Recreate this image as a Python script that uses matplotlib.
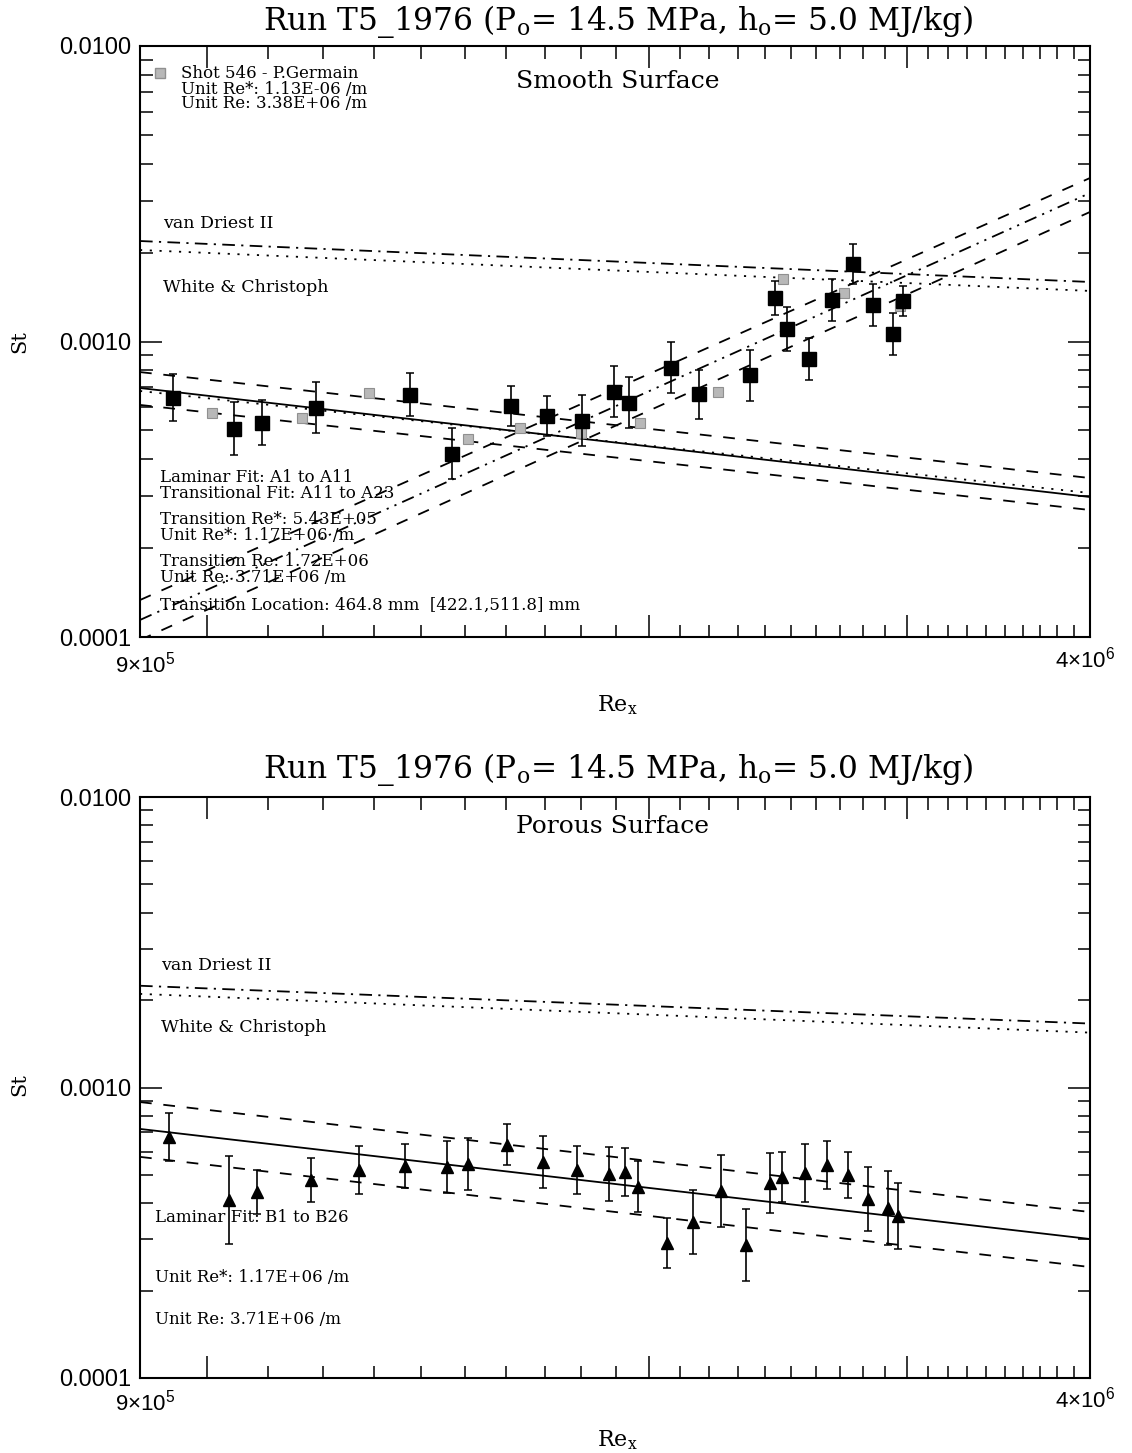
import numpy as np
import matplotlib
matplotlib.use("Agg")
import matplotlib.pyplot as plt
from matplotlib.ticker import FixedLocator, NullFormatter, FixedFormatter

# ---------------- data ----------------
smooth_re = [9.48e5, 1.043e6, 1.090e6, 1.186e6, 1.375e6, 1.468e6, 1.612e6, 1.706e6,
             1.801e6, 1.894e6, 1.941e6, 2.072e6, 2.165e6, 2.346e6, 2.438e6, 2.485e6,
             2.575e6, 2.667e6, 2.756e6, 2.844e6, 2.935e6, 2.982e6]
smooth_st = [6.45e-4, 5.06e-4, 5.31e-4, 5.97e-4, 6.61e-4, 4.17e-4, 6.05e-4, 5.61e-4,
             5.40e-4, 6.75e-4, 6.21e-4, 8.14e-4, 6.64e-4, 7.70e-4, 1.404e-3, 1.102e-3,
             8.73e-4, 1.382e-3, 1.829e-3, 1.329e-3, 1.060e-3, 1.371e-3]
smooth_err = [0.20, 0.23, 0.19, 0.22, 0.18, 0.22, 0.17, 0.17, 0.22, 0.22, 0.22,
              0.22, 0.21, 0.22, 0.14, 0.19, 0.18, 0.18, 0.17, 0.18, 0.18, 0.12]

germain_re = [1.007e6, 1.161e6, 1.290e6, 1.507e6, 1.635e6, 1.799e6, 1.972e6,
              2.230e6, 2.472e6, 2.718e6, 2.969e6]
germain_st = [5.72e-4, 5.50e-4, 6.68e-4, 4.67e-4, 5.11e-4, 4.91e-4, 5.31e-4,
              6.76e-4, 1.624e-3, 1.463e-3, 1.319e-3]

porous_re = [9.42e5, 1.035e6, 1.082e6, 1.177e6, 1.269e6, 1.365e6, 1.458e6, 1.506e6,
             1.601e6, 1.695e6, 1.788e6, 1.880e6, 1.926e6, 1.968e6, 2.058e6, 2.146e6,
             2.240e6, 2.329e6, 2.420e6, 2.465e6, 2.557e6, 2.646e6, 2.734e6, 2.824e6,
             2.914e6, 2.958e6]
porous_st = [6.74e-4, 4.10e-4, 4.36e-4, 4.80e-4, 5.20e-4, 5.37e-4, 5.31e-4, 5.44e-4,
             6.36e-4, 5.55e-4, 5.21e-4, 5.03e-4, 5.13e-4, 4.56e-4, 2.92e-4, 3.45e-4,
             4.41e-4, 2.87e-4, 4.70e-4, 4.93e-4, 5.07e-4, 5.40e-4, 5.00e-4, 4.12e-4,
             3.84e-4, 3.61e-4]
porous_err = [0.21, 0.42, 0.19, 0.19, 0.21, 0.19, 0.23, 0.23, 0.18, 0.23, 0.21, 0.24,
              0.21, 0.22, 0.22, 0.29, 0.33, 0.33, 0.27, 0.22, 0.26, 0.21, 0.20, 0.29,
              0.34, 0.30]

# fit / correlation lines: St values at Re = 9e5 and 4e6
re_ends = [9.0e5, 4.0e6]
s_vandriest = [2.188e-3, 1.590e-3]
s_white = [2.040e-3, 1.483e-3]
s_lam = [6.96e-4, 2.977e-4]
s_lam_hi = [7.88e-4, 3.451e-4]
s_lam_lo = [6.10e-4, 2.690e-4]
s_lam_dot = [6.80e-4, 3.071e-4]
s_tr = [1.142e-4, 3.181e-3]
s_tr_hi = [1.334e-4, 3.575e-3]
s_tr_lo = [9.77e-5, 2.744e-3]

p_vandriest = [2.24e-3, 1.660e-3]
p_white = [2.10e-3, 1.545e-3]
p_lam = [7.20e-4, 3.009e-4]
p_lam_hi = [8.91e-4, 3.727e-4]
p_lam_lo = [5.77e-4, 2.410e-4]

title_txt = r"Run T5_1976 (P$_{\mathregular{o}}$= 14.5 MPa, h$_{\mathregular{o}}$= 5.0 MJ/kg)"
ytick_vals = [1e-4, 1e-3, 1e-2]
ytick_labels = ["0.0001", "0.0010", "0.0100"]
xmajor = [1e6, 2e6, 3e6]
xminor = [k * 1e5 for k in range(9, 41)]

# ---------------- figure ----------------
W, H = 1132, 1453
fig = plt.figure(figsize=(W / 100, H / 100), dpi=100)


def fx(px):
    return px / W


def fy(py):
    return 1 - py / H


SERIF = "DejaVu Serif"
SANS = "Liberation Sans"

DV = (0, (7, 3.5, 1.2, 3.5))             # dash-dot
DOT = (0, (1.2, 4.2))                    # dotted
DASH = (0, (6.5, 6.5))                   # dashed
DDD = (0, (7, 3.5, 1.2, 3.5, 1.2, 3.5))  # dash-dot-dot


def make_axes(top, bottom):
    ax = fig.add_axes([fx(140), fy(bottom), (1090 - 140) / W, (bottom - top) / H])
    ax.set_xscale("log")
    ax.set_yscale("log")
    ax.set_xlim(9e5, 4e6)
    ax.set_ylim(1e-4, 1e-2)
    ax.xaxis.set_major_locator(FixedLocator(xmajor))
    ax.xaxis.set_minor_locator(FixedLocator([v for v in xminor if v not in xmajor]))
    ax.xaxis.set_major_formatter(NullFormatter())
    ax.xaxis.set_minor_formatter(NullFormatter())
    ax.yaxis.set_major_locator(FixedLocator(ytick_vals))
    ax.yaxis.set_major_formatter(FixedFormatter(ytick_labels))
    ax.yaxis.set_minor_locator(FixedLocator([m * 10.0 ** e for e in (-4, -3) for m in range(2, 10)]))
    ax.yaxis.set_minor_formatter(NullFormatter())
    ax.tick_params(which="both", direction="in", top=True, right=True, width=1.1)
    ax.tick_params(which="major", length=16)
    ax.tick_params(which="minor", length=9)
    ax.tick_params(axis="y", which="major", pad=6, labelsize=17)
    for lab in ax.get_yticklabels():
        lab.set_fontfamily(SANS)
    for s in ax.spines.values():
        s.set_linewidth(1.5)
    return ax


def errbars(ax, x, y, e, marker, ms, color="black"):
    x = np.asarray(x)
    y = np.asarray(y)
    e = np.asarray(e)
    lo = y - y / (1 + e)
    hi = y * e
    ax.errorbar(x, y, yerr=[lo, hi], fmt=marker, ms=ms, color=color, mfc=color,
                mec=color, ecolor="black", elinewidth=1.2, capsize=3, capthick=1.1,
                zorder=5)


# ---------------- top panel ----------------
ax1 = make_axes(46, 637)
ax1.plot(re_ends, s_vandriest, color="black", lw=1.3, ls=DV)
ax1.plot(re_ends, s_white, color="black", lw=1.3, ls=DOT)
ax1.plot(re_ends, s_lam, color="black", lw=1.3, ls="-")
ax1.plot(re_ends, s_lam_dot, color="black", lw=1.3, ls=DOT)
ax1.plot(re_ends, s_lam_hi, color="black", lw=1.3, ls=DASH)
ax1.plot(re_ends, s_lam_lo, color="black", lw=1.3, ls=DASH)
ax1.plot(re_ends, s_tr, color="black", lw=1.3, ls=DDD)
ax1.plot(re_ends, s_tr_hi, color="black", lw=1.3, ls=DASH)
ax1.plot(re_ends, s_tr_lo, color="black", lw=1.3, ls=DASH)
ax1.plot(germain_re, germain_st, ls="none", marker="s", ms=7, mfc="#b8b8b8",
         mec="#909090", mew=0.8, zorder=4)
errbars(ax1, smooth_re, smooth_st, smooth_err, "s", 10)

# ---------------- bottom panel ----------------
ax2 = make_axes(797, 1378)
ax2.plot(re_ends, p_vandriest, color="black", lw=1.3, ls=DV)
ax2.plot(re_ends, p_white, color="black", lw=1.3, ls=DOT)
ax2.plot(re_ends, p_lam, color="black", lw=1.3, ls="-")
ax2.plot(re_ends, p_lam_hi, color="black", lw=1.3, ls=DASH)
ax2.plot(re_ends, p_lam_lo, color="black", lw=1.3, ls=DASH)
errbars(ax2, porous_re, porous_st, porous_err, "^", 9)

# ---------------- texts ----------------
def ftxt(x, y, s, size, family=SERIF, ha="left", va="center", **kw):
    fig.text(fx(x), fy(y), s, fontsize=size, family=family, ha=ha, va=va, **kw)


for ty in (22, 770):
    ftxt(618, ty, title_txt, 22.5, family=SERIF, ha="center")

# axis labels
for (yl, xl_y, lab9_y, lab4_y) in ((342, 705, 665, 660), (1085, 1440, 1403, 1400)):
    ftxt(20, yl, "St", 15, family=SERIF, ha="center", rotation=90)
    ftxt(617, xl_y, r"Re$_{\mathregular{x}}$", 16, family=SERIF, ha="center")
    ftxt(145, lab9_y, r"9×10$^{\mathregular{5}}$", 16, family=SANS, ha="center")
    ftxt(1085, lab4_y, r"4×10$^{\mathregular{6}}$", 16, family=SANS, ha="center")

# top panel annotations
ftxt(618, 82, "Smooth Surface", 18, ha="center")
fig.lines.append(plt.Line2D([fx(160)], [fy(73)], marker="s", ms=7, mfc="#b8b8b8",
                            mec="#909090", transform=fig.transFigure, ls="none"))
ftxt(181, 74, "Shot 546 - P.Germain", 12)
ftxt(181, 89, "Unit Re*: 1.13E-06 /m", 12)
ftxt(181, 104, "Unit Re: 3.38E+06 /m", 12)
ftxt(163, 224, "van Driest II", 12.5)
ftxt(163, 287, "White & Christoph", 12.5)
ftxt(160, 477, "Laminar Fit: A1 to A11", 12)
ftxt(160, 493, "Transitional Fit: A11 to A23", 12)
ftxt(160, 519, "Transition Re*: 5.43E+05", 12)
ftxt(160, 536, "Unit Re*: 1.17E+06 /m", 12)
ftxt(160, 561, "Transition Re: 1.72E+06", 12)
ftxt(160, 578, "Unit Re: 3.71E+06 /m", 12)
ftxt(160, 605, "Transition Location: 464.8 mm  [422.1,511.8] mm", 12)

# bottom panel annotations
ftxt(612, 827, "Porous Surface", 18, ha="center")
ftxt(161, 965, "van Driest II", 12.5)
ftxt(161, 1027, "White & Christoph", 12.5)
ftxt(155, 1218, "Laminar Fit: B1 to B26", 12)
ftxt(155, 1277, "Unit Re*: 1.17E+06 /m", 12)
ftxt(155, 1319, "Unit Re: 3.71E+06 /m", 12)

fig.savefig("out.png", dpi=100)
